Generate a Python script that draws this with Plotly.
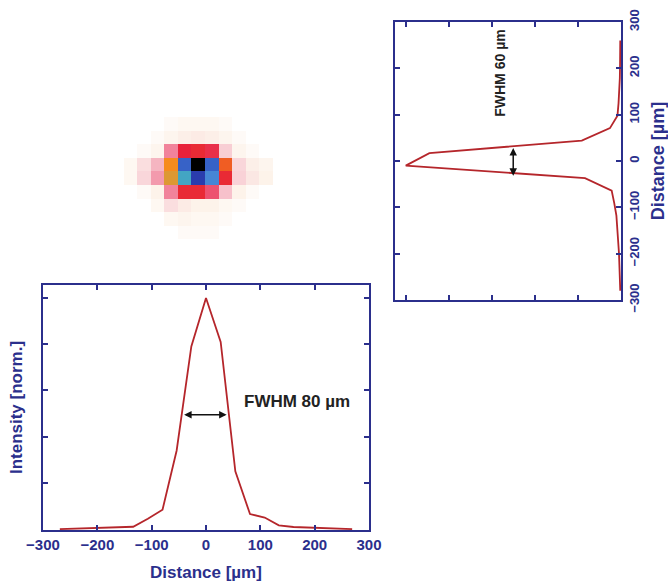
import plotly.graph_objects as go

# ---- data ----
# horizontal profile (bottom plot)
dist_h = [-269, -242, -215, -188, -161, -134, -107, -80, -54, -27, 0, 27, 54, 81, 108, 134, 161, 188, 215, 242, 269]
int_h = [0.0, 0.002, 0.004, 0.006, 0.008, 0.01, 0.045, 0.084, 0.34, 0.79, 1.0, 0.81, 0.25, 0.065, 0.05, 0.016, 0.009, 0.007, 0.005, 0.004, 0.0]

# vertical profile (right plot)
dist_v = [-280, -253, -226, -199, -172, -145, -118, -91, -64, -37, -10, 17, 44, 71, 98, 125, 152, 179, 206, 233, 260]
int_v = [0.002, 0.003, 0.004, 0.008, 0.012, 0.016, 0.02, 0.03, 0.042, 0.166, 1.0, 0.89, 0.181, 0.05, 0.015, 0.01, 0.006, 0.004, 0.003, 0.002, 0.002]

# focal spot image (rows top->bottom, cols left->right), normalised
spot_cols = [-6, -5, -4, -3, -2, -1, 0, 1, 2, 3, 4, 5, 6]
spot_rows = [-6, -5, -4, -3, -2, -1, 0, 1, 2, 3, 4, 5, 6]
spot = [
    [0, 0, 0, 0, 0, 0, 0, 0, 0, 0, 0, 0, 0],
    [0, 0, 0, 0, 0, 0, 0, 0, 0, 0, 0, 0, 0],
    [0, 0, 0, 0, 0.02, 0.03, 0.03, 0.03, 0.02, 0, 0, 0, 0],
    [0, 0, 0, 0.02, 0.04, 0.06, 0.07, 0.06, 0.04, 0.02, 0, 0, 0],
    [0, 0, 0.02, 0.04, 0.3, 0.45, 0.47, 0.43, 0.14, 0.04, 0.02, 0, 0],
    [0, 0.03, 0.1, 0.2, 0.61, 0.8, 1.0, 0.8, 0.56, 0.12, 0.06, 0.04, 0],
    [0, 0.03, 0.12, 0.26, 0.63, 0.71, 0.86, 0.76, 0.47, 0.13, 0.08, 0.05, 0],
    [0, 0, 0.02, 0.05, 0.3, 0.47, 0.47, 0.38, 0.17, 0.05, 0.02, 0, 0],
    [0, 0, 0, 0.03, 0.1, 0.07, 0.05, 0.05, 0.03, 0.02, 0, 0, 0],
    [0, 0, 0, 0, 0.03, 0.04, 0.03, 0.03, 0.02, 0, 0, 0, 0],
    [0, 0, 0, 0, 0, 0.02, 0.02, 0.02, 0, 0, 0, 0, 0],
    [0, 0, 0, 0, 0, 0, 0, 0, 0, 0, 0, 0, 0],
    [0, 0, 0, 0, 0, 0, 0, 0, 0, 0, 0, 0, 0],
]

int_ticks = [0, 0.2, 0.4, 0.6, 0.8, 1.0]
dist_ticks = [-300, -200, -100, 0, 100, 200, 300]

AX = "#2b2f8c"
CURVE = "#b5262b"
FONT = "Liberation Sans, Arial, sans-serif"

colorscale = [
    [0.0, "#ffffff"],
    [0.05, "#fdf3ea"],
    [0.12, "#f9d6da"],
    [0.25, "#f3a0b2"],
    [0.36, "#ee6080"],
    [0.45, "#e8213a"],
    [0.54, "#ee4b25"],
    [0.62, "#f7941d"],
    [0.69, "#3fb0b8"],
    [0.75, "#4a8fd8"],
    [0.82, "#3050c0"],
    [0.9, "#23279a"],
    [1.0, "#000000"],
]

fig = go.Figure()

fig.add_trace(go.Heatmap(z=spot, x=spot_cols, y=spot_rows, colorscale=colorscale,
                         zmin=0, zmax=1, showscale=False, xaxis="x3", yaxis="y3",
                         hoverinfo="skip"))

fig.add_trace(go.Scatter(x=dist_h, y=int_h, mode="lines",
                         line=dict(color=CURVE, width=1.8), xaxis="x", yaxis="y",
                         showlegend=False))

fig.add_trace(go.Scatter(x=int_v, y=dist_v, mode="lines",
                         line=dict(color=CURVE, width=1.8), xaxis="x2", yaxis="y2",
                         showlegend=False))

axis_common = dict(showline=True, linecolor=AX, linewidth=2, mirror="allticks",
                   ticks="inside", ticklen=5, tickwidth=1.5, tickcolor=AX,
                   showgrid=False, zeroline=False, automargin=False)

tickfont = dict(family=FONT, size=15, color=AX, weight="bold")
titlefont = dict(family=FONT, size=17, color=AX, weight="bold")

fig.update_layout(
    width=668, height=587,
    margin=dict(l=0, r=0, t=0, b=0, autoexpand=False),
    paper_bgcolor="white", plot_bgcolor="white",
    showlegend=False,
    xaxis=dict(domain=[43 / 668, 369 / 668], anchor="y", range=[-300, 300],
               tickvals=dist_ticks, tickfont=tickfont,
               title=dict(text="Distance [µm]", font=titlefont, standoff=14),
               **axis_common),
    yaxis=dict(domain=[57 / 587, 302 / 587], anchor="x", range=[-0.004, 1.056],
               tickvals=int_ticks, showticklabels=False,
               title=dict(text="Intensity [norm.]", font=titlefont, standoff=14),
               **axis_common),
    xaxis2=dict(domain=[395 / 668, 621 / 668], anchor="y2", range=[1.05, -0.0014],
                tickvals=int_ticks, showticklabels=False, **axis_common),
    yaxis2=dict(domain=[287 / 587, 565 / 587], anchor="x2", side="right",
                range=[-300, 300], tickvals=dist_ticks, tickangle=-90,
                tickfont=dict(family=FONT, size=13, color=AX, weight="bold"),
                title=dict(text="Distance [µm]",
                           font=dict(family=FONT, size=18, color=AX, weight="bold"),
                           standoff=11),
                **axis_common),
    xaxis3=dict(domain=[110.25 / 668, 285.75 / 668], anchor="y3", range=[-6.5, 6.5],
                visible=False),
    yaxis3=dict(domain=[321.25 / 587, 496.75 / 587], anchor="x3", range=[6.5, -6.5],
                visible=False),
)

# FWHM arrows
fig.add_annotation(x=38, y=0.495, ax=-43, ay=0.495, xref="x", yref="y",
                   axref="x", ayref="y", showarrow=True, arrowside="end+start",
                   arrowhead=2, arrowsize=1, arrowwidth=1.5, arrowcolor="#111111", text="")
fig.add_annotation(x=0.5, y=28, ax=0.5, ay=-35, xref="x2", yref="y2",
                   axref="x2", ayref="y2", showarrow=True, arrowside="end+start",
                   arrowhead=2, arrowsize=1, arrowwidth=1.5, arrowcolor="#111111", text="")

fig.add_annotation(x=66, y=0.55, xref="x", yref="y", text="FWHM 80 µm", showarrow=False,
                   xanchor="left", yanchor="middle",
                   font=dict(family=FONT, size=17, color="#222222", weight="bold"))
fig.add_annotation(x=0.56, y=189, xref="x2", yref="y2", text="FWHM 60 µm", showarrow=False,
                   textangle=-90, xanchor="center", yanchor="middle",
                   font=dict(family=FONT, size=14, color="#222222", weight="bold"))

fig.write_html("out.html", config={"displayModeBar": False},
               post_script="document.body.style.margin='0';document.body.style.padding='0';"
                           "document.documentElement.style.overflow='hidden';")
